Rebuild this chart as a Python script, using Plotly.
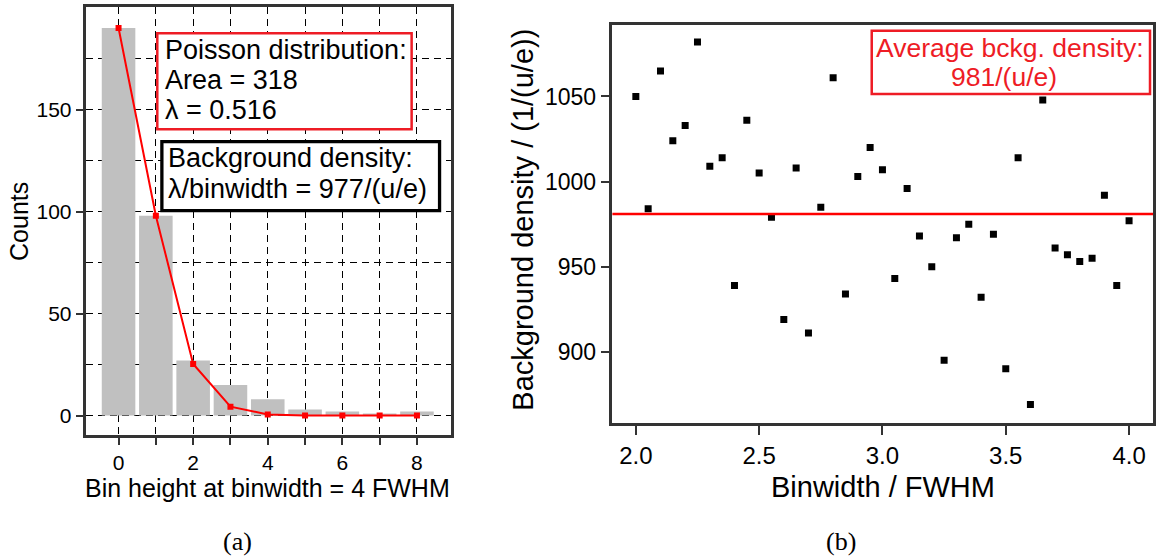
import plotly.graph_objects as go

W, H = 1156, 557

# ---- panel (a) data ----
bin_heights = [0, 1, 2, 3, 4, 5, 6, 7, 8]
bin_counts = [190, 98, 27, 15, 8, 3, 2, 1, 2]
poisson_fit = [190.0, 98.0, 25.3, 4.4, 0.6, 0.06, 0.01, 0.0, 0.0]

# ---- panel (b) data ----
binwidths = [2.0, 2.05, 2.1, 2.15, 2.2, 2.25, 2.3, 2.35, 2.4, 2.45, 2.5, 2.55, 2.6, 2.65,
             2.7, 2.75, 2.8, 2.85, 2.9, 2.95, 3.0, 3.05, 3.1, 3.15, 3.2, 3.25, 3.3, 3.35,
             3.4, 3.45, 3.5, 3.55, 3.6, 3.65, 3.7, 3.75, 3.8, 3.85, 3.9, 3.95, 4.0]
densities = [1050, 984, 1065, 1024, 1033, 1082, 1009, 1014, 939, 1036, 1005, 979, 919, 1008,
             911, 985, 1061, 934, 1003, 1020, 1007, 943, 996, 968, 950, 895, 967, 975,
             932, 969, 890, 1014, 869, 1048, 961, 957, 953, 955, 992, 939, 977]
average_density = 981

FONT = "Liberation Sans, Arial, sans-serif"
SERIF = "Liberation Serif, DejaVu Serif, serif"
AX = "#333333"
RED = "#ee1c25"
DASH = "7px,5px"


def px(x):
    return x / W


def py(y):
    return 1 - y / H


fig = go.Figure()

fig.add_trace(go.Bar(x=bin_heights, y=bin_counts, width=0.9, marker=dict(color="#c0c0c0", line=dict(width=0)),
                     xaxis="x", yaxis="y", showlegend=False))
fig.add_trace(go.Scatter(x=bin_heights, y=poisson_fit, mode="lines+markers",
                         line=dict(color="#ff0000", width=2),
                         marker=dict(symbol="square", size=6, color="#ff0000"),
                         xaxis="x", yaxis="y", showlegend=False))
fig.add_trace(go.Scatter(x=binwidths, y=densities, mode="markers",
                         marker=dict(symbol="square", size=7, color="black"),
                         xaxis="x2", yaxis="y2", showlegend=False))

fig.add_shape(type="line", xref="x2 domain", yref="y2", x0=0, x1=1,
              y0=average_density, y1=average_density, line=dict(color="#ff0000", width=2.5))

fig.update_layout(
    width=W, height=H, margin=dict(l=0, r=0, t=0, b=0),
    paper_bgcolor="white", plot_bgcolor="white",
    font=dict(family=FONT, color="black"),
    bargap=0.1,
    xaxis=dict(domain=[px(86.7), px(451.7)], range=[-0.86, 8.9], anchor="y",
               tickvals=[0, 2, 4, 6, 8], ticks="outside", ticklen=7, tickwidth=1.5, tickcolor=AX,
               showgrid=True, gridcolor="black", griddash=DASH, gridwidth=1,
               minor=dict(dtick=1, tick0=0, showgrid=True, gridcolor="black", griddash=DASH,
                          ticks="outside", ticklen=7, tickcolor=AX),
               showline=True, linecolor=AX, linewidth=2.5, mirror=True, zeroline=False,
               tickfont=dict(size=21, family=FONT)),
    yaxis=dict(domain=[py(435), py(7)], range=[-9.5, 200.3], anchor="x",
               tickvals=[0, 50, 100, 150], ticks="outside", ticklen=8, tickwidth=1.5, tickcolor=AX,
               showgrid=True, gridcolor="black", griddash=DASH, gridwidth=1,
               minor=dict(dtick=25, tick0=0, showgrid=True, gridcolor="black", griddash=DASH, ticks=""),
               showline=True, linecolor=AX, linewidth=2.5, mirror=True, zeroline=False,
               tickfont=dict(size=21, family=FONT)),
    xaxis2=dict(domain=[px(614), 1.0], range=[1.905, 4.097], anchor="y2",
                tickvals=[2.0, 2.5, 3.0, 3.5, 4.0], ticktext=["2.0", "2.5", "3.0", "3.5", "4.0"],
                ticks="outside", ticklen=9, tickwidth=1.5, tickcolor=AX,
                showgrid=False, showline=True, linecolor=AX, linewidth=2.5, mirror=True, zeroline=False,
                tickfont=dict(size=24, family=FONT)),
    yaxis2=dict(domain=[py(423.3), py(25)], range=[858, 1092], anchor="x2",
                tickvals=[900, 950, 1000, 1050], ticks="outside", ticklen=9, tickwidth=1.5, tickcolor=AX,
                showgrid=False, showline=True, linecolor=AX, linewidth=2.5, mirror=True, zeroline=False,
                tickfont=dict(size=23, family=FONT)),
)

# boxes drawn as shapes (pixel positions converted to paper)
boxes = [
    (157.7, 33.3, 412.7, 129.3, RED, 2.5),
    (162.3, 141.7, 440.7, 210.7, "black", 3.3),
    (874, 30.7, 1153, 94, RED, 2.5),
]
for x0, y0, x1, y1, col, lw in boxes:
    fig.add_shape(type="rect", xref="paper", yref="paper", x0=px(x0), x1=px(x1), y0=py(y1), y1=py(y0),
                  fillcolor="white", line=dict(color=col, width=lw), layer="above")

annotations = [
    # axis titles
    dict(text="Counts", x=px(19), y=py(221), textangle=-90, font=dict(size=25)),
    dict(text="Bin height at binwidth = 4 FWHM", x=px(268), y=py(488), font=dict(size=25)),
    dict(text="Background density / (1/(u/e))", x=px(524), y=py(220), textangle=-90, font=dict(size=29)),
    dict(text="Binwidth / FWHM", x=px(885), y=py(487), font=dict(size=29)),
    # captions
    dict(text="(a)", x=px(238), y=py(541), font=dict(size=26, family=SERIF)),
    dict(text="(b)", x=px(843), y=py(541), font=dict(size=26, family=SERIF)),
    # box texts
    dict(text="Poisson distribution:", x=px(163), y=py(50.5), xanchor="left", font=dict(size=27)),
    dict(text="Area = 318", x=px(163), y=py(80), xanchor="left", font=dict(size=27)),
    dict(text="λ = 0.516", x=px(163), y=py(110.5), xanchor="left", font=dict(size=27)),
    dict(text="Background density:", x=px(166.5), y=py(157.5), xanchor="left", font=dict(size=27)),
    dict(text="λ/binwidth = 977/(u/e)", x=px(166.5), y=py(189), xanchor="left", font=dict(size=27)),
    dict(text="Average bckg. density:", x=px(1013), y=py(47.5), font=dict(size=26.5, color=RED)),
    dict(text="981/(u/e)", x=px(1007), y=py(77), font=dict(size=26.5, color=RED)),
]
for a in annotations:
    a.setdefault("xref", "paper")
    a.setdefault("yref", "paper")
    a.setdefault("showarrow", False)
    a.setdefault("xanchor", "center")
    a.setdefault("yanchor", "middle")
    fig.add_annotation(**a)

fig.write_html("out.html")
